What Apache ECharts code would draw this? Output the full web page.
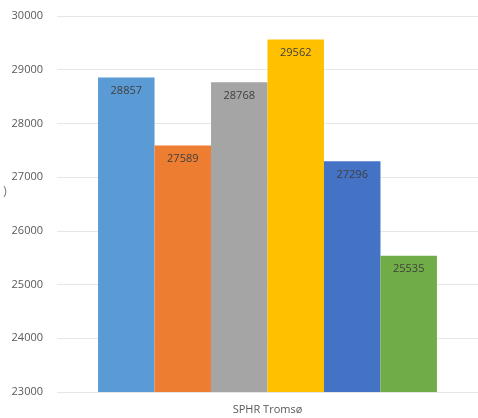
<!DOCTYPE html>
<html><head><meta charset="utf-8">
<script src="https://cdn.jsdelivr.net/npm/echarts@6/dist/echarts.min.js"></script>
<style>html,body{margin:0;padding:0;background:#fff}#c{width:478px;height:418px}</style>
</head><body><div id="c"></div>
<script>
var categories = ['SPHR Tromsø'];
var seriesValues = [28857, 27589, 28768, 29562, 27296, 25535];
var seriesColors = ['#5B9BD5', '#ED7D31', '#A5A5A5', '#FFC000', '#4472C4', '#70AD47'];
var yTicks = [23000, 24000, 25000, 26000, 27000, 28000, 29000, 30000];

var chart = echarts.init(document.getElementById('c'), null, {renderer: 'canvas'});
var series = seriesValues.map(function (v, i) {
  return {
    type: 'bar',
    data: [v],
    itemStyle: {color: seriesColors[i]},
    barGap: '0%',
    barCategoryGap: '19.5%',
    label: {
      show: true, position: 'insideTop', distance: 8,
      color: '#404040', fontSize: 11, fontFamily: 'Open Sans'
    }
  };
});
chart.setOption({
  animation: false,
  textStyle: {fontFamily: 'Open Sans'},
  grid: {left: 57, right: 0, top: 16, bottom: 26, containLabel: false},
  xAxis: {
    type: 'category', data: categories,
    axisLine: {show: false}, axisTick: {show: false},
    axisLabel: {color: '#595959', fontSize: 11, margin: 12}
  },
  yAxis: {
    type: 'value', min: yTicks[0], max: yTicks[yTicks.length - 1], interval: 1000,
    axisLine: {show: false}, axisTick: {show: false},
    axisLabel: {color: '#595959', fontSize: 11, margin: 14, formatter: function (v) { return String(v); }},
    splitLine: {lineStyle: {color: '#E6E6E6', width: 1}}
  },
  graphic: [{
    type: 'text', left: 3, top: 185,
    style: {text: ')', fill: '#7F7F7F', fontSize: 13, fontFamily: 'Open Sans'}
  }],
  series: series
});
</script></body></html>
